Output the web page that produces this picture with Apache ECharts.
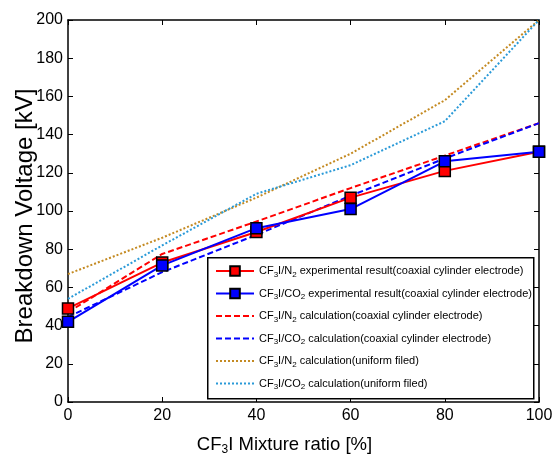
<!DOCTYPE html>
<html>
<head>
<meta charset="utf-8">
<script src="https://cdn.jsdelivr.net/npm/echarts@6/dist/echarts.min.js"></script>
<style>html,body{margin:0;padding:0;background:#fff}#c{width:555px;height:458px}</style>
</head>
<body>
<div id="c"></div>
<script>
var ratios = [0, 20, 40, 60, 80, 100];
var n2Exp = [49, 73, 89, 107, 121, 131];
var co2Exp = [42, 71.5, 91, 101, 126, 131];
var n2CalcCoax = [47, 77.5, 94.5, 112, 129, 146];
var co2CalcCoax = [44.5, 68, 87.5, 108, 127.5, 146];
var n2CalcUniform = [67, 86, 107, 130, 158, 200];
var co2CalcUniform = [54, 82, 109, 124, 147, 200];
var xTicks = [0, 20, 40, 60, 80, 100];
var yTicks = [0, 20, 40, 60, 80, 100, 120, 140, 160, 180, 200];

var legendNames = [
  '{n|CF}{s|3}{n|I/N}{s|2}{n| experimental result(coaxial cylinder electrode)}',
  '{n|CF}{s|3}{n|I/CO}{s|2}{n| experimental result(coaxial cylinder electrode)}',
  '{n|CF}{s|3}{n|I/N}{s|2}{n| calculation(coaxial cylinder electrode)}',
  '{n|CF}{s|3}{n|I/CO}{s|2}{n| calculation(coaxial cylinder electrode)}',
  '{n|CF}{s|3}{n|I/N}{s|2}{n| calculation(uniform filed)}',
  '{n|CF}{s|3}{n|I/CO}{s|2}{n| calculation(uniform filed)}'
];

function pairs(arr) { return ratios.map(function (r, i) { return [r, arr[i]]; }); }

var FONT = "'Liberation Sans', Arial, sans-serif";
var chart = echarts.init(document.getElementById('c'), null, {renderer: 'canvas'});

var axisCommon = {
  axisLine: {show: true, onZero: false, lineStyle: {color: '#000', width: 1.5}},
  axisTick: {show: true, inside: true, length: 5, lineStyle: {color: '#000', width: 1}},
  splitLine: {show: false}
};

var hiddenSym = {color: 'rgba(0,0,0,0)', borderWidth: 0, opacity: 0};

var option = {
  animation: false,
  backgroundColor: '#fff',
  grid: {left: 68, right: 16, top: 20, bottom: 56, containLabel: false, outerBoundsMode: 'none'},
  xAxis: [
    Object.assign({
      type: 'value', min: 0, max: 100, interval: 20, position: 'bottom',
      name: '{n|CF}{s|3}{n|I Mixture ratio [%]}', nameLocation: 'middle', nameGap: 31,
      nameMoveOverlap: false,
      nameTextStyle: {
        padding: [0, 38, 0, 0],
        rich: {
          n: {fontFamily: FONT, fontSize: 18.5, color: '#000'},
          s: {fontFamily: FONT, fontSize: 12, color: '#000', padding: [11, 0, 0, 0]}
        }
      },
      axisLabel: {fontFamily: FONT, fontSize: 16, color: '#000', margin: 6}
    }, axisCommon),
    Object.assign({
      type: 'value', min: 0, max: 100, interval: 20, position: 'top',
      axisLabel: {show: false}
    }, axisCommon)
  ],
  yAxis: [
    Object.assign({
      type: 'value', min: 0, max: 200, interval: 20, position: 'left',
      name: 'Breakdown Voltage [kV]', nameLocation: 'middle', nameGap: 31, nameRotate: 90,
      nameMoveOverlap: false,
      nameTextStyle: {fontFamily: FONT, fontSize: 24, color: '#000', padding: [0, 10, 0, 0]},
      axisLabel: {fontFamily: FONT, fontSize: 16, color: '#000', margin: 5}
    }, axisCommon),
    Object.assign({
      type: 'value', min: 0, max: 200, interval: 20, position: 'right',
      axisLabel: {show: false}
    }, axisCommon)
  ],
  graphic: [{
    type: 'rect', left: 207, top: 257, z: 90,
    shape: {width: 326, height: 141},
    style: {fill: '#fff', stroke: '#000', lineWidth: 1.5}
  }],
  legend: {
    show: true, orient: 'vertical', left: 207, top: 257, z: 100,
    padding: [6, 4, 6, 8], itemGap: 6.5, itemWidth: 38, itemHeight: 12,
    data: [
      {name: legendNames[0]},
      {name: legendNames[1]},
      {name: legendNames[2], itemStyle: hiddenSym},
      {name: legendNames[3], itemStyle: hiddenSym},
      {name: legendNames[4], itemStyle: hiddenSym},
      {name: legendNames[5], itemStyle: hiddenSym}
    ],
    textStyle: {
      lineHeight: 16,
      rich: {
        n: {fontFamily: FONT, fontSize: 11, color: '#000', lineHeight: 16},
        s: {fontFamily: FONT, fontSize: 8, color: '#000', padding: [7, 0, 0, 0]}
      }
    }
  },
  series: [
    {name: legendNames[0], type: 'line', data: pairs(n2Exp), symbol: 'rect', symbolSize: 11,
      lineStyle: {color: '#ff0000', width: 2}, itemStyle: {color: '#ff0000', borderColor: '#000', borderWidth: 1.5}, z: 3},
    {name: legendNames[1], type: 'line', data: pairs(co2Exp), symbol: 'rect', symbolSize: 11,
      lineStyle: {color: '#0000ff', width: 2}, itemStyle: {color: '#0000ff', borderColor: '#000', borderWidth: 1.5}, z: 4},
    {name: legendNames[2], type: 'line', data: pairs(n2CalcCoax), symbol: 'none', showSymbol: false,
      lineStyle: {color: '#ff0000', width: 2, type: [6, 3]}, itemStyle: {color: '#ff0000'}, z: 2},
    {name: legendNames[3], type: 'line', data: pairs(co2CalcCoax), symbol: 'none', showSymbol: false,
      lineStyle: {color: '#0000ff', width: 2, type: [6, 3]}, itemStyle: {color: '#0000ff'}, z: 2},
    {name: legendNames[4], type: 'line', data: pairs(n2CalcUniform), symbol: 'none', showSymbol: false,
      lineStyle: {color: '#c48a22', width: 2, type: [2, 2]}, itemStyle: {color: '#c48a22'}, z: 2},
    {name: legendNames[5], type: 'line', data: pairs(co2CalcUniform), symbol: 'none', showSymbol: false,
      lineStyle: {color: '#2a9ad8', width: 2, type: [2, 2]}, itemStyle: {color: '#2a9ad8'}, z: 2}
  ]
};
chart.setOption(option);
</script>
</body>
</html>
